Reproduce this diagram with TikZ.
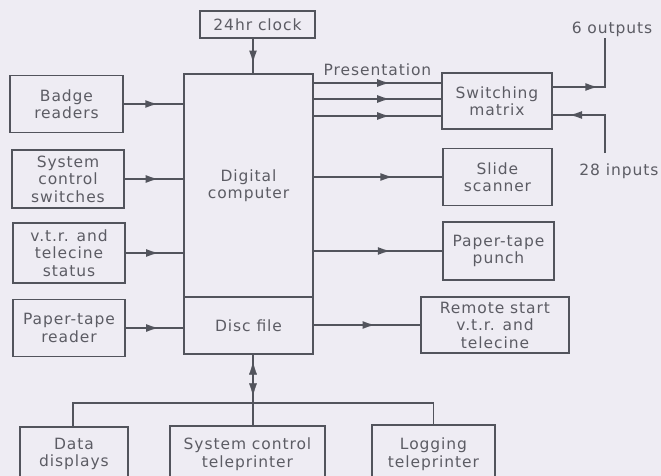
\documentclass[tikz,border=0pt]{standalone}
\usepackage{fontspec}
\setmainfont{DejaVu Sans}[LetterSpace=6]
\usepackage{xcolor}
\usetikzlibrary{arrows.meta,calc,positioning,decorations.markings}

\definecolor{paper}{RGB}{238,236,243}
\definecolor{ink}{RGB}{82,84,92}
\definecolor{lettering}{RGB}{92,92,100}

\begin{document}
\begin{tikzpicture}[x=1pt, y=-1pt,
  box/.style={draw=ink, line width=1.6pt, align=center, text=lettering,
    font=\fontsize{15.5}{17.5}\selectfont, inner sep=1pt},
  wire/.style={draw=ink, line width=1.8pt},
  midarrow/.style={decoration={markings,
      mark=at position #1 with {\arrow[ink]{Latex[length=13pt, width=8pt]}}},
    postaction={decorate}},
  midarrow/.default=0.6,
  lbl/.style={text=lettering, font=\fontsize{15.5}{17.5}\selectfont}]
  \fill[paper] (0,0) rectangle (661,476);
  \clip (0,0) rectangle (661,476);

  % centre column
  \node[box, minimum width=115pt, minimum height=27pt] (clock) at (257.5,24.5) {24hr clock};
  \node[box, minimum width=129pt, minimum height=223pt] (comp) at (248.5,185.5) {Digital\\computer};
  \node[box, minimum width=129pt, minimum height=57pt] (disc) at (248.5,325.5) {Disc file};

  % inputs on the left
  \node[box, minimum width=113pt, minimum height=57pt] (badge) at (66.5,104) {Badge\\readers};
  \node[box, minimum width=112pt, minimum height=58pt] (switches) at (68,179) {System\\control\\switches};
  \node[box, minimum width=112pt, minimum height=60pt] (vtr) at (69,253) {v.t.r. and\\telecine\\status};
  \node[box, minimum width=112pt, minimum height=57pt] (ptreader) at (69,328) {Paper-tape\\reader};

  % outputs on the right
  \node[box, minimum width=110pt, minimum height=56pt] (matrix) at (497,101) {Switching\\matrix};
  \node[box, minimum width=109pt, minimum height=57pt] (slide) at (497.5,177) {Slide\\scanner};
  \node[box, minimum width=111pt, minimum height=58pt] (punch) at (498.5,251) {Paper-tape\\punch};
  \node[box, minimum width=148pt, minimum height=56pt] (remote) at (495,325) {Remote start\\v.t.r. and\\telecine};

  % peripherals at the bottom
  \node[box, minimum width=108pt, minimum height=54pt] (displays) at (74,454) {Data\\displays};
  \node[box, minimum width=155pt, minimum height=56pt] (sctp) at (247.5,454) {System control\\teleprinter};
  \node[box, minimum width=123pt, minimum height=58pt] (logtp) at (433.5,454) {Logging\\teleprinter};

  \draw[wire, midarrow=0.72] (clock.south -| 253,0) -- (comp.north -| 253,0);

  \foreach \src in {badge, switches, vtr}
    \draw[wire, midarrow=0.58] (\src.east) -- (\src.east -| comp.west);
  \draw[wire, midarrow=0.58] (ptreader.east) -- (ptreader.east -| disc.west);

  % presentation feeds
  \foreach \i/\dy in {1/-18, 2/-2, 3/15} {
    \path (matrix.west) ++(0,\dy) coordinate (m\i);
    \draw[wire, midarrow=0.6] (comp.east |- m\i) -- (m\i);
  }
  \node[lbl, above=4pt of $(comp.east |- m1)!0.5!(m1)$] (pres) {Presentation};

  \draw[wire, midarrow=0.62] (comp.east |- slide.west) -- (slide.west);
  \draw[wire, midarrow=0.6] (comp.east |- punch.west) -- (punch.west);
  \draw[wire, midarrow=0.58] (disc.east |- remote.west) -- (remote.west);

  % matrix outputs and inputs
  \coordinate (outtop) at (605,38);
  \coordinate (inbot) at (605,153);
  \path (matrix.east) ++(0,-14) coordinate (mo);
  \path (matrix.east) ++(0,14) coordinate (mi);
  \draw[wire, midarrow=0.45] (mo) -- (mo -| outtop) -- (outtop);
  \draw[wire, midarrow=0.82] (inbot) -- (mi -| inbot) -- (mi);
  \node[lbl, above=-2pt of outtop, xshift=7pt] (outs) {6 outputs};
  \node[lbl, below=7pt of inbot, xshift=14pt] (ins) {28 inputs};

  % data bus to peripherals
  \coordinate (bus) at (253,403);
  \draw[wire] (displays.north -| 73,0) |- (logtp.north |- bus) -- (logtp.north);
  \draw[wire] (disc.south -| bus) -- (sctp.north -| bus);
  \draw[draw=none, decoration={markings,
      mark=at position 0.14 with {\arrowreversed[ink]{Latex[length=13pt, width=8pt]}},
      mark=at position 0.86 with {\arrow[ink]{Latex[length=13pt, width=8pt]}}},
    decorate] (disc.south -| bus) -- (bus);
\end{tikzpicture}
\end{document}
